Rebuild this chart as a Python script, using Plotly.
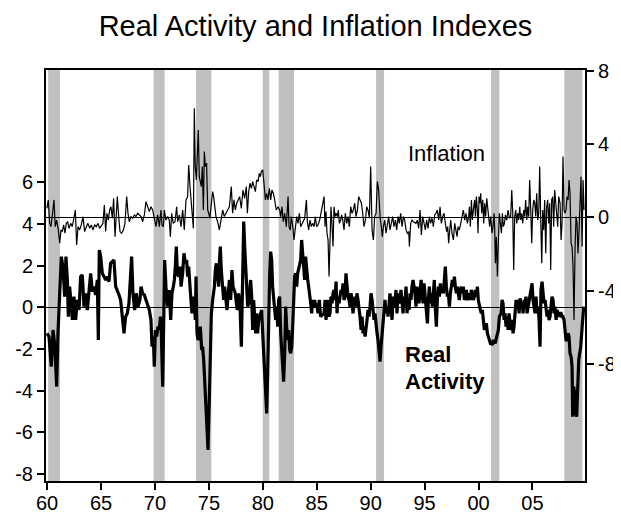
import plotly.graph_objects as go

# Real activity index (left axis), decimal year / value
ra_year = [
    1959.99, 1960.18, 1960.39, 1960.55, 1960.70, 1960.89, 1961.01, 1961.17, 1961.32, 1961.47,
    1961.63, 1961.75, 1961.88, 1961.97, 1962.09, 1962.25, 1962.34, 1962.49, 1962.65, 1962.80,
    1962.96, 1963.11, 1963.27, 1963.42, 1963.58, 1963.73, 1963.89, 1964.04, 1964.19, 1964.35,
    1964.50, 1964.66, 1964.75, 1964.84, 1964.97, 1965.12, 1965.28, 1965.43, 1965.58, 1965.74,
    1965.89, 1966.05, 1966.20, 1966.36, 1966.51, 1966.67, 1966.82, 1966.98, 1967.13, 1967.28,
    1967.44, 1967.59, 1967.75, 1967.84, 1967.96, 1968.12, 1968.27, 1968.43,
    1968.61, 1968.71, 1968.86, 1969.02, 1969.17, 1969.33, 1969.48, 1969.63, 1969.73, 1969.85,
    1969.94, 1970.04, 1970.16, 1970.28, 1970.41, 1970.50, 1970.59, 1970.72, 1970.81, 1970.90,
    1971.02, 1971.18, 1971.27, 1971.33, 1971.46, 1971.58, 1971.70, 1971.80, 1971.89, 1971.98,
    1972.08, 1972.20, 1972.32, 1972.42, 1972.57, 1972.69, 1972.82, 1972.94, 1973.03, 1973.13,
    1973.25, 1973.34, 1973.43, 1973.56, 1973.65, 1973.74, 1973.81, 1973.90, 1973.99, 1974.11,
    1974.21, 1974.33, 1974.42, 1974.52, 1974.64, 1974.73, 1974.83, 1974.92, 1975.04, 1975.13,
    1975.23, 1975.35, 1975.51, 1975.60, 1975.69, 1975.81, 1975.91, 1975.97, 1976.06, 1976.15,
    1976.28, 1976.37, 1976.46, 1976.59, 1976.68, 1976.77, 1976.90, 1977.02,
    1977.14, 1977.24, 1977.33, 1977.45, 1977.55, 1977.64, 1977.76, 1977.89, 1978.01, 1978.13,
    1978.23, 1978.32, 1978.41, 1978.50, 1978.60, 1978.69, 1978.78, 1978.87, 1978.97, 1979.06,
    1979.15, 1979.25, 1979.34, 1979.43, 1979.52, 1979.62, 1979.71, 1979.80, 1979.89, 1979.99,
    1980.08, 1980.17, 1980.27, 1980.36, 1980.45, 1980.54, 1980.64, 1980.73, 1980.82, 1980.91,
    1981.01, 1981.10, 1981.19, 1981.29, 1981.38, 1981.47, 1981.56, 1981.66, 1981.75, 1981.84,
    1981.93, 1982.03, 1982.12, 1982.21, 1982.31, 1982.40, 1982.49, 1982.58, 1982.68, 1982.77,
    1982.86, 1982.95, 1983.05, 1983.14, 1983.23, 1983.32, 1983.42, 1983.51, 1983.60, 1983.70,
    1983.79, 1983.88, 1983.97, 1984.07, 1984.16, 1984.25, 1984.34, 1984.44, 1984.53, 1984.62,
    1984.72, 1984.81, 1984.90, 1984.99, 1985.12, 1985.24, 1985.36,
    1985.68, 1985.77, 1985.86, 1985.95, 1986.05, 1986.14, 1986.23, 1986.32, 1986.42, 1986.51,
    1986.60, 1986.70, 1986.79, 1986.88, 1986.97, 1987.07, 1987.16, 1987.25, 1987.34, 1987.44,
    1987.53, 1987.62, 1987.71, 1987.81, 1987.90, 1987.99, 1988.09, 1988.18, 1988.27, 1988.36,
    1988.46, 1988.55, 1988.64, 1988.73, 1988.83, 1988.92, 1989.01, 1989.11, 1989.20, 1989.29,
    1989.38, 1989.48, 1989.57, 1989.66, 1989.75, 1989.85, 1989.94, 1990.03, 1990.13, 1990.22,
    1990.31, 1990.40, 1990.50, 1990.59, 1990.68, 1990.77, 1990.87, 1990.96, 1991.05, 1991.14,
    1991.24, 1991.33, 1991.42, 1991.52, 1991.61, 1991.70, 1991.79, 1991.89, 1991.98, 1992.07,
    1992.16, 1992.26, 1992.35, 1992.44, 1992.54, 1992.63, 1992.72, 1992.81, 1992.91, 1993.00,
    1993.09, 1993.18, 1993.28, 1993.37, 1993.46, 1993.56, 1993.65, 1993.74, 1993.83, 1993.93,
    1994.11, 1994.20, 1994.30, 1994.39, 1994.48, 1994.58, 1994.67, 1994.76, 1994.85, 1994.95,
    1995.07, 1995.16, 1995.26, 1995.35, 1995.44, 1995.53, 1995.63, 1995.72, 1995.81, 1995.90,
    1996.00, 1996.09, 1996.18, 1996.28, 1996.37, 1996.46, 1996.55, 1996.65, 1996.74, 1996.83,
    1996.92, 1997.02, 1997.11, 1997.20, 1997.30, 1997.39, 1997.48, 1997.57, 1997.67, 1997.76,
    1997.85, 1997.94, 1998.04, 1998.13, 1998.22, 1998.31, 1998.41, 1998.50, 1998.59, 1998.69,
    1998.78, 1998.87, 1998.96, 1999.06, 1999.15, 1999.24, 1999.33, 1999.43, 1999.52, 1999.61,
    1999.71, 1999.80, 1999.89, 1999.98, 2000.08, 2000.17, 2000.26, 2000.35, 2000.45, 2000.54,
    2000.63, 2000.73, 2000.82, 2000.91, 2001.00, 2001.10, 2001.19, 2001.28, 2001.37, 2001.47,
    2001.56, 2001.65, 2001.74, 2001.84, 2001.93,
    2002.09, 2002.18, 2002.27, 2002.37, 2002.46, 2002.55, 2002.64, 2002.74, 2002.83, 2002.92,
    2003.01, 2003.11, 2003.20, 2003.29, 2003.38, 2003.48, 2003.57, 2003.66, 2003.76, 2003.85,
    2003.94, 2004.03, 2004.13, 2004.22, 2004.31, 2004.40, 2004.50, 2004.59, 2004.68, 2004.78,
    2004.87, 2004.96, 2005.05, 2005.15, 2005.24, 2005.33, 2005.42, 2005.52, 2005.61, 2005.70,
    2005.79, 2005.89, 2005.98, 2006.07, 2006.17, 2006.26, 2006.35, 2006.44, 2006.54, 2006.63,
    2006.72, 2006.81, 2006.91, 2007.00, 2007.09, 2007.19, 2007.28, 2007.37, 2007.46, 2007.56,
    2007.65, 2007.74, 2007.83, 2007.93, 2008.02, 2008.11, 2008.21, 2008.30, 2008.39, 2008.48,
    2008.58, 2008.67, 2008.73, 2008.82, 2008.92, 2009.01, 2009.10, 2009.19, 2009.29, 2009.38,
    2009.47, 2009.56, 2009.66, 2009.75,
]
ra_value = [
    -1.25, -1.41, -2.85, -1.09, -1.73, -3.81, -1.25, 0.99, 2.43, 1.95,
    0.51, 2.43, 1.31, -0.45, 0.99, 0.03, -0.61, 0.51, -0.61, 0.35,
    -0.13, 1.47, 1.55, 0.03, 0.67, -0.13, 0.83, 1.63, 0.75, 0.99,
    0.59, 1.31, -1.57, 2.75, 2.43, 1.63, 1.47, 1.31, 1.47, 1.23,
    2.11, 2.19, 2.27, 0.99, 0.83, 0.59, 0.35, -0.45, -1.25, -0.45,
    -0.29, 0.19, 1.63, 2.43, 0.67, -0.13, 0.67, 0.03,
    0.35, 0.99, 0.67, 0.59, 0.35, 0.03, -0.13, -0.61, -1.89, -1.41,
    -2.85, -1.09, -1.41, -0.93, -1.09, -0.45, -1.25, -3.81, 0.67, 2.27,
    0.99, 0.03, 0.67, 0.83, -0.61, 0.67, 0.99, 1.31, 1.95, 2.91,
    1.63, 1.47, 1.95, 0.99, 1.63, 2.59, 2.11, 2.27, 1.47, 1.95,
    0.99, 0.03, -0.29, 0.51, 0.35, -0.61, 1.47, -1.25, -1.57, -1.41,
    -0.93, -2.05, -1.89, -2.53, -3.81, -4.93, -6.21, -6.85, -4.45, -2.21,
    -0.29, 0.35, 0.99, 1.79, 2.11, 1.47, 0.99, 2.11, 2.91, 1.79,
    0.67, 0.35, 0.99, 0.19, -0.13, 0.51, 1.31, 0.35,
    1.79, 0.99, 0.83, 0.67, 0.19, -0.13, 0.67, 0.03, -1.89, 1.63,
    4.11, 2.91, 1.95, 0.99, 0.03, 0.19, 0.99, 1.31, 0.51, -1.09,
    0.35, -0.29, -1.25, -0.29, -1.25, -0.61, -0.45, -0.29, -0.13, -1.25,
    -2.21, -3.49, -4.45, -5.10, -3.17, -0.29, 1.63, 2.67, 2.27, 0.99,
    0.35, -0.45, -0.61, 0.03, -0.93, 0.35, 0.51, -1.25, -2.21, -2.85,
    -3.57, -2.21, 0.03, -0.93, -1.57, -1.09, -2.05, -2.21, -1.89, -0.93,
    0.35, 1.47, 1.63, 0.99, 1.63, 1.87, 1.95, 2.27, 3.23, 2.59,
    1.95, 1.31, 2.43, 1.63, 1.31, 0.99, 0.67, 0.19, -0.29, 0.35,
    0.03, 0.35, 0.03, 0.19, -0.29, 0.35, -0.45,
    -0.29, 0.35, -0.61, 0.03, 0.35, -0.45, -0.29, 0.51, 0.19, 0.67,
    0.83, 0.35, 1.23, -0.29, 0.51, 0.19, 0.51, 0.83, 0.67, 1.15,
    0.35, 0.51, 1.63, 0.99, 0.51, 0.35, 0.03, 0.67, 0.35, -0.29,
    0.03, 0.51, 0.03, 0.67, 0.35, 0.03, -0.45, -1.09, -0.45, -1.25,
    -0.93, -1.41, -1.09, -0.61, -0.13, -0.45, 0.03, 0.67, 0.35, -0.29,
    -0.61, -0.29, -0.93, -1.25, -1.57, -2.21, -2.61, -1.89, -1.25, -0.93,
    -0.13, 0.35, -0.29, 0.03, -0.45, 0.35, 0.67, 0.03, -0.61, 0.51,
    0.03, 0.35, 0.83, -0.29, 0.67, 0.19, 0.35, 0.83, 0.03, -0.29,
    0.51, 0.19, 0.99, -0.29, 0.19, -0.13, 0.67, 0.35, 0.99, 1.31,
    0.67, 0.03, 0.99, 0.35, 0.19, 0.67, 1.31, 0.83, 0.19, 1.15,
    0.35, -0.45, -0.77, 0.35, 0.99, 0.19, 0.67, 0.03, 0.99, 1.31,
    -0.13, -0.93, 0.35, 0.99, 0.51, 1.15, 0.67, 0.99, 0.67, 1.31,
    1.95, 0.99, 0.51, 0.67, 0.03, 0.67, 0.99, 1.31, 0.99, 1.47,
    0.99, 0.67, 0.99, 0.67, 0.35, 0.83, 0.99, 0.67, 0.99, 0.35,
    0.51, 0.83, 0.35, 0.51, 0.67, 0.35, 0.83, 0.67, 0.35, 0.51,
    0.83, 0.51, 0.99, 0.35, 0.03, -0.13, -0.29, -0.13, -0.61, -1.09,
    -0.93, -0.77, -1.25, -1.41, -1.57, -1.73, -1.73, -1.81, -1.57, -1.65,
    -1.73, -1.49, -1.25, -1.09, -0.45,
    -0.29, 0.35, 0.19, -0.61, -0.29, -0.93, -0.45, -1.09, -0.29, -0.77,
    -1.09, -0.61, -1.25, -0.93, -0.29, 0.35, 0.03, 0.35, -0.29, 0.43,
    0.03, 0.19, -0.29, 0.35, 0.03, 0.51, -0.29, 0.03, 0.35, 0.67,
    0.99, 1.15, 0.35, 0.03, -0.29, 0.51, -0.29, 0.03, -0.61, -1.89,
    0.83, 1.23, 0.67, 0.19, 0.35, -0.29, -0.45, -0.13, -0.61, -0.45,
    0.03, 0.51, 0.35, -0.29, 0.03, -0.61, -0.13, -0.29, -0.45, -0.29,
    -0.29, -0.45, -0.45, -0.61, -1.25, -1.57, -1.57, -1.25, -1.41, -2.21,
    -2.37, -2.85, -5.25, -3.81, -4.13, -5.09, -5.25, -3.65, -2.53, -2.21,
    -1.89, -1.25, -0.29, 0.03,
]

# Inflation index (right axis)
inf_year = [
    1959.99, 1960.11, 1960.24, 1960.36, 1960.49, 1960.64, 1960.76, 1960.89, 1961.04, 1961.17,
    1961.29, 1961.41, 1961.54, 1961.66, 1961.78, 1961.91, 1962.03, 1962.19, 1962.34, 1962.49,
    1962.62, 1962.74, 1962.87, 1963.02, 1963.17, 1963.33, 1963.48, 1963.64, 1963.79, 1963.95,
    1964.10, 1964.26, 1964.41, 1964.56, 1964.72, 1964.87, 1965.03, 1965.18, 1965.31, 1965.43,
    1965.55, 1965.68, 1965.80, 1965.92, 1966.05, 1966.17, 1966.30, 1966.42, 1966.51, 1966.64,
    1966.76, 1966.91, 1967.07, 1967.22, 1967.38, 1967.50, 1967.62, 1967.78, 1967.93, 1968.09,
    1968.24, 1968.40,
    1968.71, 1968.86, 1969.02, 1969.17, 1969.33, 1969.48, 1969.63, 1969.79, 1969.94, 1970.10,
    1970.25, 1970.41, 1970.56, 1970.65, 1970.78, 1970.87, 1971.02, 1971.18, 1971.33, 1971.43,
    1971.55, 1971.70, 1971.86, 1972.01, 1972.11, 1972.26, 1972.42, 1972.57, 1972.72, 1972.88,
    1973.03, 1973.13, 1973.25, 1973.34, 1973.43, 1973.56, 1973.65, 1973.74, 1973.84, 1973.93,
    1974.02, 1974.11, 1974.21, 1974.30, 1974.39, 1974.49, 1974.58, 1974.67, 1974.79, 1974.89,
    1974.98, 1975.10, 1975.23, 1975.35, 1975.44, 1975.54, 1975.66, 1975.81, 1975.97, 1976.12,
    1976.28, 1976.43, 1976.59, 1976.74, 1976.90,
    1977.08, 1977.20, 1977.33, 1977.45, 1977.58, 1977.70, 1977.85, 1978.01, 1978.16, 1978.32,
    1978.47, 1978.57, 1978.69, 1978.81, 1978.94, 1979.06, 1979.18, 1979.31, 1979.43, 1979.56,
    1979.68, 1979.77, 1979.86, 1979.99, 1980.11, 1980.24, 1980.36, 1980.48, 1980.61, 1980.73,
    1980.85, 1980.98, 1981.10, 1981.25, 1981.41, 1981.56, 1981.66, 1981.78, 1981.90, 1982.03,
    1982.18, 1982.34, 1982.43, 1982.55, 1982.64, 1982.80, 1982.89, 1983.02, 1983.14, 1983.26,
    1983.39, 1983.51, 1983.63, 1983.76, 1983.88, 1984.04, 1984.13, 1984.25, 1984.38, 1984.50,
    1984.62, 1984.75, 1984.87, 1984.99, 1985.12, 1985.27,
    1985.68, 1985.77, 1985.86, 1985.95, 1986.05, 1986.14, 1986.23, 1986.32, 1986.42, 1986.51,
    1986.60, 1986.70, 1986.79, 1986.91, 1987.00, 1987.10, 1987.22, 1987.31, 1987.41, 1987.53,
    1987.65, 1987.78, 1987.90, 1988.02, 1988.15, 1988.27, 1988.39, 1988.52, 1988.64, 1988.77,
    1988.89, 1989.01, 1989.14, 1989.26, 1989.38, 1989.51, 1989.63, 1989.75, 1989.88, 1990.00,
    1990.13, 1990.25, 1990.37, 1990.50, 1990.62, 1990.74, 1990.87, 1990.99, 1991.08, 1991.18,
    1991.30, 1991.42, 1991.55, 1991.67, 1991.79, 1991.92, 1992.04, 1992.16, 1992.29, 1992.41,
    1992.54, 1992.66, 1992.78, 1992.91, 1993.03, 1993.15, 1993.28, 1993.40, 1993.53, 1993.59,
    1993.71, 1993.83, 1993.96,
    1994.20, 1994.33, 1994.45, 1994.58, 1994.70, 1994.82, 1994.95, 1995.07, 1995.19, 1995.32,
    1995.44, 1995.56, 1995.69, 1995.81, 1995.94, 1996.06, 1996.18, 1996.31, 1996.43, 1996.55,
    1996.68, 1996.80, 1996.92, 1997.05, 1997.14, 1997.23, 1997.33, 1997.42, 1997.54, 1997.67,
    1997.79, 1997.91, 1998.01, 1998.10, 1998.22, 1998.35, 1998.47, 1998.59, 1998.72, 1998.84,
    1998.96, 1999.09, 1999.15, 1999.24, 1999.34, 1999.43, 1999.52, 1999.64, 1999.71, 1999.80,
    1999.89, 1999.95, 2000.05, 2000.14, 2000.20, 2000.29, 2000.39, 2000.48, 2000.57, 2000.66,
    2000.76, 2000.85, 2000.94, 2001.03, 2001.13, 2001.25, 2001.34, 2001.44, 2001.50, 2001.56,
    2001.65, 2001.75, 2001.84, 2001.93,
    2002.12, 2002.21, 2002.30, 2002.40, 2002.49, 2002.61, 2002.74, 2002.86, 2002.98, 2003.08,
    2003.17, 2003.26, 2003.35, 2003.45, 2003.54, 2003.63, 2003.72, 2003.82, 2003.91, 2004.00,
    2004.10, 2004.19, 2004.28, 2004.37, 2004.47, 2004.56, 2004.65, 2004.74, 2004.84, 2004.93,
    2005.02, 2005.12, 2005.21, 2005.30, 2005.39, 2005.49, 2005.58, 2005.67, 2005.76, 2005.86,
    2005.95, 2006.04, 2006.13, 2006.23, 2006.32, 2006.41, 2006.51, 2006.60, 2006.69, 2006.78,
    2006.88, 2006.97, 2007.06, 2007.15, 2007.25, 2007.34, 2007.43, 2007.56, 2007.65, 2007.74,
    2007.83, 2007.93, 2008.02, 2008.11, 2008.21, 2008.30, 2008.39, 2008.48, 2008.58, 2008.67,
    2008.76, 2008.85, 2008.95, 2009.04, 2009.13, 2009.22, 2009.32, 2009.41, 2009.50, 2009.60,
    2009.69, 2009.78,
]
inf_value = [
    0.49, 0.95, -0.33, -0.51, 0.13, 0.95, -0.51, -0.15, -0.69, -1.42,
    -0.69, -0.78, -0.42, -0.87, -0.33, -0.24, -0.60, -0.33, -0.51, 0.04,
    0.40, -1.51, -0.51, -0.69, -0.42, 0.04, -0.78, -0.51, -0.33, -0.60,
    -0.42, -0.69, -0.42, -0.51, -0.33, -0.60, -0.42, -0.33, 0.67, -0.78,
    0.22, -0.15, 0.40, 0.58, -0.05, 1.04, -1.06, 0.40, 1.13, 0.04,
    -0.78, -0.87, -0.69, -0.33, 1.13, 0.22, -0.24, 0.04, -0.05, 0.13,
    0.04, 0.22,
    0.04, -0.24, 0.13, 0.86, 0.58, 0.31, 0.58, 0.40, -0.05, -0.51,
    0.13, -0.51, 0.40, -0.42, -0.51, 0.40, -0.15, 0.04, -0.15, -1.06,
    0.22, -0.33, -0.24, 0.58, -0.24, 0.13, -0.51, 0.40, -0.69, 0.95,
    1.13, 2.86, 1.68, 1.13, 0.58, -0.60, 5.96, 2.77, 2.04, 3.68,
    4.77, 2.22, 1.86, 1.68, 2.77, 0.40, 3.59, 2.77, 2.95, 0.40,
    0.22, -0.05, 0.77, 1.40, 1.13, 0.58, 0.04, -0.24, -0.69, -0.15,
    0.40, 0.04, 0.22, 0.40, 0.58,
    1.68, 0.22, 0.95, 0.40, 0.77, 0.95, 1.13, 0.49, 1.49, 1.04,
    1.68, 0.22, 1.40, 1.86, 1.58, 1.95, 1.68, 1.40, 2.04, 1.95,
    2.40, 2.22, 2.50, 2.59, 1.86, 0.95, 1.31, 0.95, 1.58, 0.95,
    1.49, 1.31, 0.95, 0.40, 0.58, 0.40, 0.04, 0.58, -0.24, 0.22,
    -0.51, 1.13, -0.51, -0.69, 0.04, -0.60, -1.24, -0.51, 0.04, -0.33,
    0.22, -0.51, -0.33, -0.15, -0.05, 0.95, -0.24, -0.69, -0.15, -0.51,
    -0.33, -0.51, 0.04, -0.51, -0.42, -0.15,
    1.13, -0.51, 0.31, -0.87, -1.24, -3.24, -1.24, 0.58, -0.51, -1.60,
    0.58, 0.04, 0.22, 0.04, 0.40, -0.33, -0.15, 0.13, -0.15, -0.69,
    0.22, -0.33, 0.04, -0.51, 0.58, 0.22, 0.40, 0.77, 0.04, 0.40,
    1.13, 0.95, 0.77, 0.22, -0.51, -0.15, 0.58, 0.40, -0.05, 2.77,
    -0.69, -1.24, 0.04, 0.22, 1.95, 1.49, 0.04, -0.51, -1.06, -0.51,
    -0.15, -0.87, -0.33, 0.04, -0.69, -0.33, 0.04, -0.51, -0.15, -0.69,
    0.04, -0.33, 0.22, -0.51, 0.04, -0.15, -0.69, -0.87, -0.78, -1.60,
    -0.33, -0.15, -0.24,
    -0.33, -0.15, -0.60, 0.40, -0.97, 0.04, -0.33, -0.69, -0.15, -0.60,
    0.04, -0.33, -0.05, -0.51, 0.13, 0.22, 0.40, -0.15, 0.58, -0.33,
    0.04, 0.22, -0.33, -0.78, -0.51, -1.42, -0.69, -0.15, -0.87, -1.24,
    -0.33, -0.69, -1.06, -0.51, -0.69, -0.33, 0.04, 0.40, -0.15, 0.22,
    -0.33, 0.04, 0.58, -0.51, 0.95, -0.15, 0.40, 0.95, 0.04, 1.13,
    0.40, -0.87, 1.13, 0.77, 1.31, 0.22, 0.95, -0.33, 0.77, 0.04,
    1.04, 0.40, -0.15, -0.51, 0.04, -0.87, -0.51, 0.22, -0.69, -2.51,
    -1.06, -3.24, -1.24, 0.22,
    -0.87, 0.22, -0.51, -0.33, 0.13, -0.15, 0.40, -0.05, 0.04, 1.49,
    0.22, -2.88, 0.04, 0.40, -0.33, 0.22, -0.15, 0.58, -0.15, 0.22,
    -0.33, 0.40, 0.04, 0.95, -0.15, 0.58, 0.04, 2.04, 0.40, -1.42,
    0.40, 0.95, 0.77, 0.04, 1.31, -0.15, 0.22, 2.77, 0.04, -2.51,
    0.40, -0.69, 0.95, -1.97, 0.58, 0.95, -0.33, 0.77, -2.88, 0.95,
    1.13, -0.51, 1.49, 0.95, 0.40, -0.51, 1.13, 0.77, -1.24, -0.33,
    3.32, 0.40, 0.22, 0.40, 1.13, 0.95, 2.04, 1.31, -1.42, -1.60,
    -2.70, -5.61, -1.60, 0.04, -0.33, -1.97, -0.69, 0.40, 2.22, -1.60,
    2.04, 0.40,
]

# recession bands (shaded)
rec_start = [1960.10, 1969.88, 1973.81, 1979.99, 1981.47, 1990.50, 2001.16, 2007.96]
rec_end = [1961.20, 1970.90, 1975.23, 1980.60, 1982.89, 1991.24, 2001.93, 2009.63]

x_tickvals = [1960, 1965, 1970, 1975, 1980, 1985, 1990, 1995, 2000, 2005]
x_ticktext = ["60", "65", "70", "75", "80", "85", "90", "95", "00", "05"]
left_ticks = [-8, -6, -4, -2, 0, 2, 4, 6]
right_ticks = [-8, -4, 0, 4, 8]

assert len(ra_year) == len(ra_value)
assert len(inf_year) == len(inf_value)

FONT = "Liberation Sans, Arial, sans-serif"

fig = go.Figure()

fig.add_trace(
    go.Scatter(
        x=ra_year,
        y=ra_value,
        mode="lines",
        line=dict(color="black", width=3.2),
        name="Real Activity",
        yaxis="y",
    )
)
fig.add_trace(
    go.Scatter(
        x=inf_year,
        y=inf_value,
        mode="lines",
        line=dict(color="black", width=1.2),
        name="Inflation",
        yaxis="y2",
    )
)

for s, e in zip(rec_start, rec_end):
    fig.add_shape(
        type="rect",
        xref="x",
        yref="paper",
        x0=s,
        x1=e,
        y0=0,
        y1=1,
        fillcolor="#c0c0c0",
        line=dict(width=0),
        layer="below",
    )

fig.add_annotation(
    x=1996.99, y=3.46, xref="x", yref="y2",
    text="Inflation", showarrow=False,
    xanchor="center", yanchor="middle",
    font=dict(family=FONT, size=22, color="black"),
)
fig.add_annotation(
    x=1993.0, y=-2.29, xref="x", yref="y",
    text="<b>Real</b>", showarrow=False,
    xanchor="left", yanchor="middle",
    font=dict(family=FONT, size=22, color="black"),
)
fig.add_annotation(
    x=1993.0, y=-3.54, xref="x", yref="y",
    text="<b>Activity</b>", showarrow=False,
    xanchor="left", yanchor="middle",
    font=dict(family=FONT, size=22, color="black"),
)

axis_common = dict(
    showgrid=False,
    showline=True,
    linecolor="black",
    linewidth=2,
    ticks="outside",
    ticklen=7,
    tickwidth=1.5,
    tickcolor="black",
    automargin=False,
    tickfont=dict(family=FONT, size=20, color="black"),
)

# the page body adds an 8px offset, so the figure is sized to fit the window
fig.update_layout(
    width=613,
    height=507,
    paper_bgcolor="white",
    plot_bgcolor="white",
    showlegend=False,
    margin=dict(l=38, r=36, t=62, b=34),
    title=dict(
        text="Real Activity and Inflation Indexes",
        x=0.5,
        xref="paper",
        xanchor="center",
        y=0.9645,
        yref="container",
        yanchor="middle",
        font=dict(family=FONT, size=29, color="black"),
    ),
    xaxis=dict(
        range=[1959.9, 2009.87],
        tickvals=x_tickvals,
        ticktext=x_ticktext,
        ticklabelstandoff=-4,
        mirror=True,
        zeroline=False,
        **axis_common,
    ),
    yaxis=dict(
        range=[-8.34, 11.39],
        tickvals=left_ticks,
        ticktext=[str(v) for v in left_ticks],
        mirror=True,
        zeroline=True,
        zerolinecolor="black",
        zerolinewidth=1,
        **axis_common,
    ),
    yaxis2=dict(
        range=[-14.41, 8.05],
        tickvals=right_ticks,
        ticktext=[str(v) for v in right_ticks],
        overlaying="y",
        side="right",
        zeroline=True,
        zerolinecolor="black",
        zerolinewidth=1,
        **axis_common,
    ),
)

fig.write_html("out.html")
